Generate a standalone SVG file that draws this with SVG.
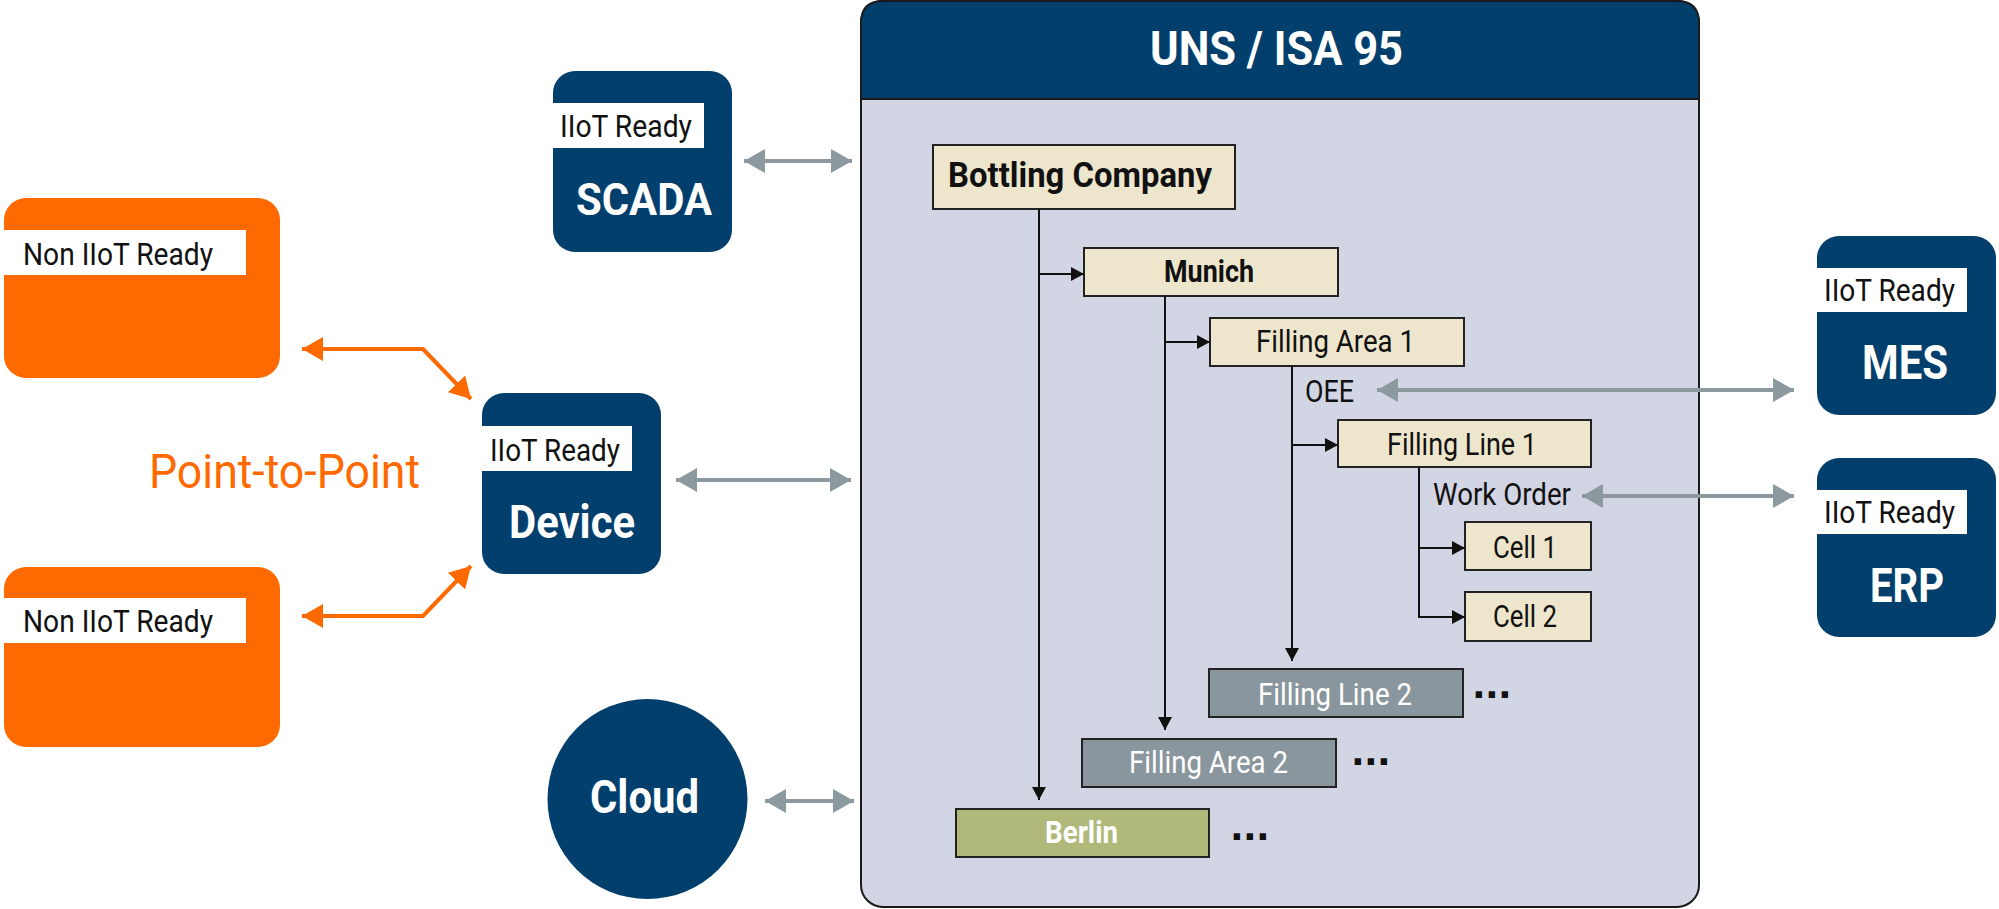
<svg xmlns="http://www.w3.org/2000/svg" width="1999" height="909" viewBox="0 0 1999 909">
<style>
.blue{fill:#023f6d}
.orange{fill:#ff6a00}
.lbl{fill:#ffffff}
.t{font-family:Roboto,"Liberation Sans",sans-serif;fill:#111111}
.tb{font-family:Roboto,"Liberation Sans",sans-serif;font-weight:bold;fill:#ffffff}
.dots{font-family:"DejaVu Sans",sans-serif;font-weight:bold;font-size:36px;fill:#111111}
.node{stroke:#222222;stroke-width:2}
.beige{fill:#ede6cc}
.grey{fill:#8a969d}
.olive{fill:#b0b97a}
.tree{fill:none;stroke:#111111;stroke-width:2}
.garrow{fill:none;stroke:#8c999f;stroke-width:4}
.oarrow{fill:none;stroke:#ff6a00;stroke-width:4}
</style>
<defs>
<marker id="mk" markerUnits="userSpaceOnUse" markerWidth="14" markerHeight="14" refX="13" refY="7" orient="auto"><path d="M0,0 L13,7 L0,14 z" fill="#111111"/></marker>
<marker id="mg" markerUnits="userSpaceOnUse" markerWidth="22" markerHeight="24" refX="21" refY="12" orient="auto-start-reverse"><path d="M0,0 L21,12 L0,24 z" fill="#8c999f"/></marker>
<marker id="mo" markerUnits="userSpaceOnUse" markerWidth="22" markerHeight="24" refX="21" refY="12" orient="auto-start-reverse"><path d="M0,0 L21,12 L0,24 z" fill="#ff6a00"/></marker>
</defs>

<g id="uns-panel">
<rect x="861" y="1" width="838" height="906" rx="22" fill="#d2d5e4" stroke="#1a1a1a" stroke-width="2"/>
<path d="M861,99 V23 Q861,1 883,1 H1677 Q1699,1 1699,23 V99 Z" class="blue" stroke="#1a1a1a" stroke-width="2"/>
<text x="1150" y="65" class="tb" font-size="49" textLength="253" lengthAdjust="spacingAndGlyphs">UNS / ISA 95</text>
</g>

<g id="non-iiot-1">
<rect x="4" y="198" width="276" height="180" rx="22" class="orange"/>
<rect x="0" y="230" width="246" height="45" class="lbl"/>
<text x="23" y="265" class="t" font-size="32" textLength="190" lengthAdjust="spacingAndGlyphs">Non IIoT Ready</text>
</g>
<g id="non-iiot-2">
<rect x="4" y="567" width="276" height="180" rx="22" class="orange"/>
<rect x="0" y="598" width="246" height="45" class="lbl"/>
<text x="23" y="632" class="t" font-size="32" textLength="190" lengthAdjust="spacingAndGlyphs">Non IIoT Ready</text>
</g>
<g id="point-to-point">
<text x="149" y="488" font-family="Roboto,'Liberation Sans',sans-serif" font-size="48" fill="#ff6a00" textLength="271" lengthAdjust="spacingAndGlyphs">Point-to-Point</text>
</g>

<g id="scada">
<rect x="553" y="71" width="179" height="181" rx="22" class="blue"/>
<rect x="551" y="103" width="153" height="45" class="lbl"/>
<text x="560" y="137" class="t" font-size="32" textLength="132" lengthAdjust="spacingAndGlyphs">IIoT Ready</text>
<text x="576" y="215" class="tb" font-size="45" textLength="136" lengthAdjust="spacingAndGlyphs">SCADA</text>
</g>
<g id="device">
<rect x="482" y="393" width="179" height="181" rx="22" class="blue"/>
<rect x="479" y="426" width="153" height="45" class="lbl"/>
<text x="490" y="461" class="t" font-size="32" textLength="130" lengthAdjust="spacingAndGlyphs">IIoT Ready</text>
<text x="509" y="538" class="tb" font-size="46" textLength="126" lengthAdjust="spacingAndGlyphs">Device</text>
</g>
<g id="cloud">
<circle cx="647.5" cy="799" r="100" class="blue"/>
<text x="590" y="813" class="tb" font-size="46" textLength="109" lengthAdjust="spacingAndGlyphs">Cloud</text>
</g>
<g id="mes">
<rect x="1817" y="236" width="179" height="179" rx="22" class="blue"/>
<rect x="1813" y="268" width="154" height="44" class="lbl"/>
<text x="1824" y="301" class="t" font-size="32" textLength="131" lengthAdjust="spacingAndGlyphs">IIoT Ready</text>
<text x="1862" y="379" class="tb" font-size="49" textLength="86" lengthAdjust="spacingAndGlyphs">MES</text>
</g>
<g id="erp">
<rect x="1817" y="458" width="179" height="179" rx="22" class="blue"/>
<rect x="1813" y="490" width="154" height="44" class="lbl"/>
<text x="1824" y="523" class="t" font-size="32" textLength="131" lengthAdjust="spacingAndGlyphs">IIoT Ready</text>
<text x="1870" y="602" class="tb" font-size="49" textLength="74" lengthAdjust="spacingAndGlyphs">ERP</text>
</g>

<g id="bottling-company">
<rect x="933" y="145" width="302" height="64" class="node beige"/>
<text x="948" y="187" class="t" font-weight="bold" font-size="35" textLength="264" lengthAdjust="spacingAndGlyphs">Bottling Company</text>
</g>
<g id="munich">
<rect x="1084" y="248" width="254" height="48" class="node beige"/>
<text x="1164" y="282" class="t" font-weight="bold" font-size="31" textLength="90" lengthAdjust="spacingAndGlyphs">Munich</text>
</g>
<g id="filling-area-1">
<rect x="1210" y="318" width="254" height="48" class="node beige"/>
<text x="1256" y="352" class="t" font-size="31" textLength="159" lengthAdjust="spacingAndGlyphs">Filling Area 1</text>
</g>
<g id="oee">
<text x="1305" y="402" class="t" font-size="31" textLength="49" lengthAdjust="spacingAndGlyphs">OEE</text>
</g>
<g id="filling-line-1">
<rect x="1338" y="420" width="253" height="47" class="node beige"/>
<text x="1387" y="455" class="t" font-size="31" textLength="150" lengthAdjust="spacingAndGlyphs">Filling Line 1</text>
</g>
<g id="work-order">
<text x="1433" y="505" class="t" font-size="31" textLength="138" lengthAdjust="spacingAndGlyphs">Work Order</text>
</g>
<g id="cell-1">
<rect x="1465" y="522" width="126" height="48" class="node beige"/>
<text x="1493" y="558" class="t" font-size="31" textLength="64" lengthAdjust="spacingAndGlyphs">Cell 1</text>
</g>
<g id="cell-2">
<rect x="1465" y="592" width="126" height="49" class="node beige"/>
<text x="1493" y="627" class="t" font-size="31" textLength="64" lengthAdjust="spacingAndGlyphs">Cell 2</text>
</g>
<g id="filling-line-2">
<rect x="1209" y="669" width="254" height="48" class="node grey"/>
<text x="1258" y="705" font-family="Roboto,'Liberation Sans',sans-serif" font-size="31" fill="#ffffff" textLength="154" lengthAdjust="spacingAndGlyphs">Filling Line 2</text>
<text x="1472 1485 1498" y="698" class="dots">...</text>
</g>
<g id="filling-area-2">
<rect x="1082" y="739" width="254" height="48" class="node grey"/>
<text x="1129" y="773" font-family="Roboto,'Liberation Sans',sans-serif" font-size="31" fill="#ffffff" textLength="159" lengthAdjust="spacingAndGlyphs">Filling Area 2</text>
<text x="1351 1364 1377" y="765" class="dots">...</text>
</g>
<g id="berlin">
<rect x="956" y="809" width="253" height="48" class="node olive"/>
<text x="1045" y="843" class="tb" font-size="31" textLength="73" lengthAdjust="spacingAndGlyphs">Berlin</text>
<text x="1230 1243 1256" y="840" class="dots">...</text>
</g>

<g id="connectors">
<path class="tree" d="M1039,209 V800" marker-end="url(#mk)"/>
<path class="tree" d="M1039,274 H1084" marker-end="url(#mk)"/>
<path class="tree" d="M1165,296 V730" marker-end="url(#mk)"/>
<path class="tree" d="M1165,342 H1210" marker-end="url(#mk)"/>
<path class="tree" d="M1292,366 V661" marker-end="url(#mk)"/>
<path class="tree" d="M1292,445 H1338" marker-end="url(#mk)"/>
<path class="tree" d="M1419,467 V617 H1465" marker-end="url(#mk)"/>
<path class="tree" d="M1419,548 H1465" marker-end="url(#mk)"/>
<path class="garrow" d="M744,161 H852" marker-start="url(#mg)" marker-end="url(#mg)"/>
<path class="garrow" d="M676,480 H851" marker-start="url(#mg)" marker-end="url(#mg)"/>
<path class="garrow" d="M765,801 H854" marker-start="url(#mg)" marker-end="url(#mg)"/>
<path class="garrow" d="M1377,390 H1794" marker-start="url(#mg)" marker-end="url(#mg)"/>
<path class="garrow" d="M1582,496 H1794" marker-start="url(#mg)" marker-end="url(#mg)"/>
<path class="oarrow" d="M302,349 H423 L471,399" marker-start="url(#mo)" marker-end="url(#mo)"/>
<path class="oarrow" d="M302,616 H423 L471,566" marker-start="url(#mo)" marker-end="url(#mo)"/>
</g>
</svg>
